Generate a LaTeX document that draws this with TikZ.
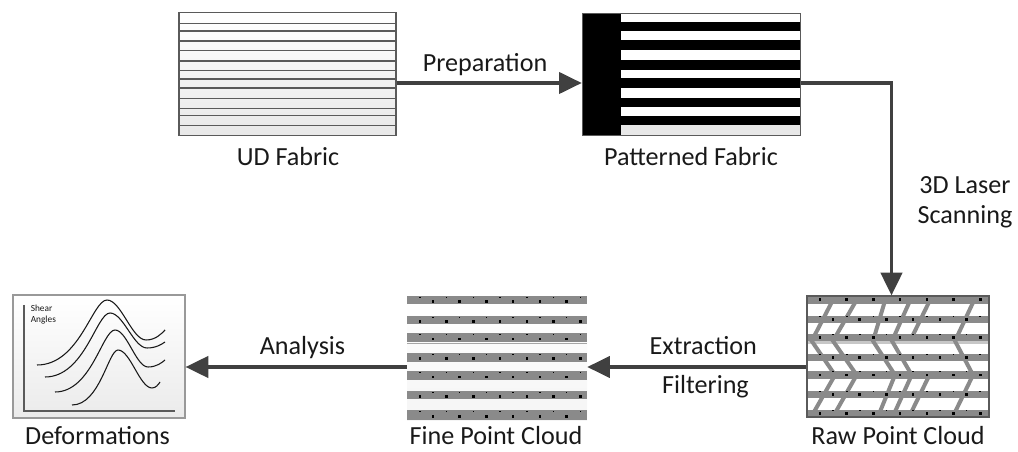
\documentclass[tikz,border=0pt]{standalone}
\usepackage{fontspec}
\setmainfont{Carlito}
\usetikzlibrary{arrows.meta,fit}

\definecolor{flowgray}{RGB}{64,64,64}
\definecolor{bandgray}{RGB}{138,138,138}
\definecolor{inkblack}{RGB}{25,25,25}
\definecolor{edgegray}{RGB}{90,90,90}

\begin{document}
\begin{tikzpicture}[x=0.75pt,y=-0.75pt,
  panel/.style={inner sep=0pt, draw=edgegray, line width=0.9pt},
  frame/.style={draw=edgegray, line width=0.9pt},
  flow/.style={draw=flowgray, line width=2.3pt, -{Triangle[length=17pt,width=16pt]}},
  caption/.style={font=\fontsize{19.6}{22.5}\selectfont, text=inkblack, inner sep=0pt, anchor=base},
  tinytext/.style={font=\fontsize{7}{8.3}\selectfont, text=inkblack, inner sep=0pt, align=left, anchor=north west},
  weft/.style={draw=edgegray, line width=1pt},
  chevron/.style={draw=bandgray, line width=3pt},
  curve/.style={draw=inkblack, line width=0.8pt},
  axis/.style={draw=edgegray, line width=0.8pt}
]
\useasboundingbox (0,0) rectangle (1018,452);

% ---------- UD fabric ----------
\node[panel, fit={(179,12.3) (396,135.7)}, top color=white, bottom color=black!9] (ud) {};
\foreach \y in {23.3,31,41,50.3,61,70.7,79,88,98.3,108.3,115.7,125.7}
  \draw[weft] (179,\y) -- (396,\y);
\draw[frame] (179,12.3) rectangle (396,135.7);
\node[caption] (udlab) at (288,165.7) {UD Fabric};

% ---------- patterned fabric ----------
\node[panel, fit={(582.3,13.3) (800.7,135.7)}, fill=white] (pat) {};
\fill[black!9] (582.3,125) rectangle (800.7,135.7);
\foreach \a/\b in {22.3/31,40.3/49.7,60.3/70.3,77.7/88.3,98.3/106.7,115.7/125}
  \fill[black] (582.3,\a) rectangle (800.7,\b);
\fill[black] (582.3,13.3) rectangle (620.7,135.7);
\draw[frame] (582.3,13.3) rectangle (800.7,135.7);
\node[caption] (patlab) at (691,165.7) {Patterned Fabric};

% ---------- raw point cloud ----------
\node[panel, fit={(807,296) (989,417)}, fill=white] (raw) {};
\begin{scope}
  \clip (807,296) rectangle (989,417);
  \foreach \a/\b in {296/304,316/323,334/341,354/361,371/379,391/398,410/417}
    \fill[bandgray] (807,\a) rectangle (989,\b);
  \fill[black!22] (807,341) rectangle (989,344);
  % scanned crossing yarns
  \draw[chevron] (836,294) -- (811.7,341) -- (835,375) -- (810,419);
  \draw[chevron] (860,294) -- (833,341) -- (856.7,375) -- (831.7,419);
  \draw[chevron] (887,294) -- (873,341) -- (895,375) -- (877,419);
  \draw[chevron] (913,294) -- (892,341) -- (911.7,375) -- (891.7,419);
  \draw[chevron] (977,294) -- (955,341) -- (973,375) -- (951.7,419);
  \draw[chevron] (932,296) -- (911.5,338);
  \draw[chevron] (929,376) -- (908,419);
  % sampled points
  \foreach \y [count=\i] in {299.5,319.5,337.5,357.5,375,394.5,413.5} {
    \ifodd\i
      \foreach \x in {820,846.7,...,981} \fill (\x-1.3,\y-1.3) rectangle (\x+1.3,\y+1.3);
      \foreach \x in {833,859.7,...,970} \fill (\x-0.8,\y-3.6) rectangle (\x+0.8,\y-2.6);
    \else
      \foreach \x in {833,859.7,...,970} \fill (\x-1.3,\y-1.3) rectangle (\x+1.3,\y+1.3);
      \foreach \x in {820,846.7,...,981} \fill (\x-0.8,\y-3.6) rectangle (\x+0.8,\y-2.6);
    \fi
  }
\end{scope}
\draw[frame] (807,296) rectangle (989,417);
\node[caption] (rawlab) at (898,444) {Raw Point Cloud};

% ---------- fine point cloud ----------
\node[inner sep=0pt, fit={(407,296) (587,420)}, top color=white, bottom color=black!4] (fine) {};
\foreach \a/\b/\m [count=\i] in {296/304/300,315.7/324/320,333.3/341.7/337.5,352.7/361.7/357.2,371/380/375.5,391/399.3/395.2,410/420/415} {
  \fill[bandgray] (407,\a) rectangle (587,\b);
  \ifodd\i
    \foreach \x in {420,446.7,...,581} \fill (\x-0.7,\a+1) rectangle (\x+0.7,\a+1.8);
    \foreach \x in {433,459.7,...,570} \fill (\x-1.3,\m+0.2) rectangle (\x+1.3,\m+2.8);
  \else
    \foreach \x in {433,459.7,...,570} \fill (\x-0.7,\a+1) rectangle (\x+0.7,\a+1.8);
    \foreach \x in {420,446.7,...,581} \fill (\x-1.3,\m+0.2) rectangle (\x+1.3,\m+2.8);
  \fi
}
\draw[black!35, line width=0.5pt] (407,343) -- (587,343);
\node[caption] (finelab) at (496,444) {Fine Point Cloud};

% ---------- deformation plot ----------
\node[inner sep=0pt, draw=black!40, line width=0.9pt, fit={(13,295) (185,418)}, top color=white, bottom color=black!8] (def) {};
\draw[axis] (24,305) -- (24,411) -- (175,411);
\node[tinytext] (shear) at (30.5,305) {Shear\\Angles};
\draw[curve] (37,365) .. controls (79.7,365) and (92.3,300) .. (107,300)
             .. controls (121,300) and (132,340) .. (146,340)
             .. controls (155.5,340) and (161.2,334) .. (165,330);
\draw[curve] (45,377) .. controls (84.7,377) and (96.4,313) .. (110,313)
             .. controls (123.3,313) and (133.7,348) .. (147,348)
             .. controls (156,348) and (161.4,344.4) .. (165,342);
\draw[curve] (55,392) .. controls (91.6,392) and (102.4,330) .. (115,330)
             .. controls (126.9,330) and (136.1,367) .. (148,367)
             .. controls (156.5,367) and (161.6,362.8) .. (165,360);
\draw[curve] (72,405) .. controls (100,405) and (108.3,350) .. (118,350)
             .. controls (130.2,350) and (139.8,388) .. (152,388)
             .. controls (156,388) and (158.4,384.4) .. (160,382);
\node[caption] (deflab) at (97.5,444) {Deformations};

% ---------- process flow ----------
\coordinate (upper) at (0,83);
\coordinate (lower) at (0,367);
\coordinate (bend) at (891.5,0);
\draw[flow] (ud.east |- upper) -- (pat.west |- upper);
\draw[flow] (pat.east |- upper) -| (raw.north -| bend);
\draw[flow] (raw.west |- lower) -- (fine.east |- lower);
\draw[flow] (fine.west |- lower) -- (def.east |- lower);

\node[caption] (prep) at (485,71.7) {Preparation};
\node[caption, align=center, anchor=north] (scan) at (965,176) {3D Laser\\Scanning};
\node[caption] (extr) at (703.3,355) {Extraction};
\node[caption] (filt) at (705.5,393.3) {Filtering};
\node[caption] (anal) at (302.5,355) {Analysis};
\end{tikzpicture}
\end{document}
